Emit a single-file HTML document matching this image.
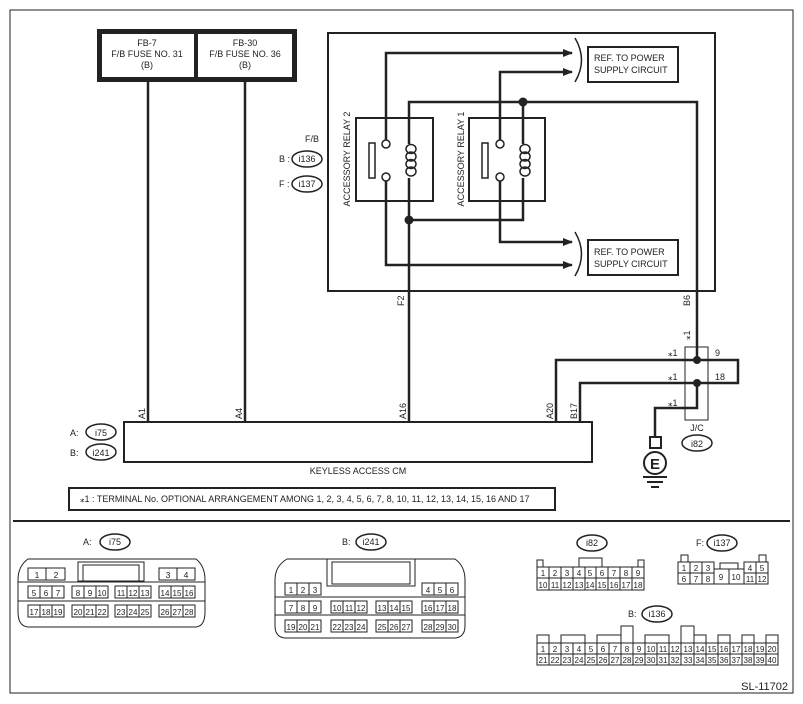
<!DOCTYPE html>
<html><head><meta charset="utf-8"><style>
html,body{margin:0;padding:0;background:#fff;}
svg{display:block;}
text{font-family:"Liberation Sans",sans-serif;fill:#222;}
</style></head><body>
<svg width="803" height="704" viewBox="0 0 803 704" xmlns="http://www.w3.org/2000/svg">
<defs>
<marker id="ar" markerWidth="10" markerHeight="8" refX="9" refY="4" orient="auto" markerUnits="userSpaceOnUse"><path d="M0,0 L10,4 L0,8 Z" fill="#222"/></marker>
</defs>
<rect x="10" y="10" width="783" height="683" fill="none" stroke="#222" stroke-width="1"/>
<line x1="13" y1="521" x2="790" y2="521" stroke="#222" stroke-width="2"/>

<!-- fuse boxes -->
<rect x="99.5" y="31.5" width="195" height="48" fill="#fff" stroke="#222" stroke-width="5"/>
<line x1="196" y1="31" x2="196" y2="80" stroke="#222" stroke-width="4"/>
<g font-size="9" text-anchor="middle">
<text x="147" y="46">FB-7</text><text x="147" y="57">F/B FUSE NO. 31</text><text x="147" y="68">(B)</text>
<text x="245" y="46">FB-30</text><text x="245" y="57">F/B FUSE NO. 36</text><text x="245" y="68">(B)</text>
</g>
<g stroke="#222" stroke-width="2.5" fill="none">
<line x1="148" y1="82" x2="148" y2="422"/>
<line x1="245" y1="82" x2="245" y2="422"/>
</g>

<!-- F/B box -->
<rect x="328" y="33" width="387" height="258" fill="none" stroke="#222" stroke-width="2"/>
<rect x="356" y="118" width="77" height="83" fill="none" stroke="#222" stroke-width="2"/>
<rect x="469" y="118" width="76" height="83" fill="none" stroke="#222" stroke-width="2"/>
<rect x="369" y="143" width="6" height="35" fill="#fff" stroke="#222" stroke-width="1.5"/>
<rect x="482" y="143" width="6" height="35" fill="#fff" stroke="#222" stroke-width="1.5"/>
<g stroke="#222" stroke-width="2.5" fill="none">
<polyline points="386,140 386,53 572,53" marker-end="url(#ar)"/>
<polyline points="500,140 500,72 572,72" marker-end="url(#ar)"/>
<polyline points="386,181 386,265 572,265" marker-end="url(#ar)"/>
<polyline points="500,181 500,242 572,242" marker-end="url(#ar)"/>
<polyline points="409,144 409,102 697,102 697,360"/>
<line x1="409" y1="178" x2="409" y2="422"/>
<line x1="523" y1="102" x2="523" y2="144"/>
<polyline points="409,220 523,220 523,178"/>
</g>
<g stroke="#222" stroke-width="1.5" fill="#fff">
<circle cx="386" cy="144" r="4"/><circle cx="386" cy="177" r="4"/>
<circle cx="500" cy="144" r="4"/><circle cx="500" cy="177" r="4"/>
</g>
<!-- coils -->
<g stroke="#222" stroke-width="1.5" fill="none">
<ellipse cx="411" cy="149" rx="5" ry="4.5"/><ellipse cx="411" cy="156.5" rx="5" ry="4.5"/><ellipse cx="411" cy="164" rx="5" ry="4.5"/><ellipse cx="411" cy="171.5" rx="5" ry="4.5"/>
<ellipse cx="525" cy="149" rx="5" ry="4.5"/><ellipse cx="525" cy="156.5" rx="5" ry="4.5"/><ellipse cx="525" cy="164" rx="5" ry="4.5"/><ellipse cx="525" cy="171.5" rx="5" ry="4.5"/>
</g>
<circle cx="409" cy="220" r="4.5" fill="#222"/>
<circle cx="523" cy="102" r="4.5" fill="#222"/>
<g stroke="#222" stroke-width="1.5" fill="none">
<path d="M575,38 Q588,60 575,82"/>
<path d="M575,232 Q588,254 575,276"/>
</g>
<rect x="588" y="47" width="90" height="35" fill="none" stroke="#222" stroke-width="2"/>
<rect x="588" y="240" width="90" height="35" fill="none" stroke="#222" stroke-width="2"/>
<g font-size="9">
<text x="594" y="61">REF. TO POWER</text><text x="594" y="73">SUPPLY CIRCUIT</text>
<text x="594" y="255">REF. TO POWER</text><text x="594" y="267">SUPPLY CIRCUIT</text>
<text transform="translate(350,159) rotate(-90)" text-anchor="middle">ACCESSORY RELAY 2</text>
<text transform="translate(464,159) rotate(-90)" text-anchor="middle">ACCESSORY RELAY 1</text>
<text x="305" y="142">F/B</text>
<text x="279" y="162">B :</text><text x="279" y="187">F :</text>
<text x="307" y="162" text-anchor="middle">i136</text><text x="307" y="187" text-anchor="middle">i137</text>
<text transform="translate(404,306) rotate(-90)">F2</text>
<text transform="translate(690,306) rotate(-90)">B6</text>
</g>
<ellipse cx="307" cy="159" rx="15" ry="8" fill="none" stroke="#222" stroke-width="1.5"/>
<ellipse cx="307" cy="184" rx="15" ry="8" fill="none" stroke="#222" stroke-width="1.5"/>

<!-- J/C -->
<rect x="685" y="347" width="23" height="73" fill="none" stroke="#222" stroke-width="1"/>
<g stroke="#222" stroke-width="2.5" fill="none">
<polyline points="556,422 556,360 738,360 738,383 580,383 580,422"/>
<polyline points="697,383 697,408 655,408 655,437"/>
</g>
<circle cx="697" cy="360" r="4" fill="#222"/>
<circle cx="697" cy="383" r="4" fill="#222"/>
<rect x="650" y="437" width="11" height="11" fill="#fff" stroke="#222" stroke-width="2"/>
<circle cx="655" cy="463" r="11" fill="#fff" stroke="#222" stroke-width="2"/>
<text x="655" y="469" font-size="15" font-weight="bold" text-anchor="middle">E</text>
<g stroke="#222" stroke-width="2">
<line x1="643" y1="477" x2="667" y2="477"/><line x1="647" y1="482" x2="663" y2="482"/><line x1="651" y1="487" x2="659" y2="487"/>
</g>
<g font-size="9">
<text x="668" y="356">⁎1</text><text x="668" y="380">⁎1</text><text x="668" y="406">⁎1</text>
<text transform="translate(690,340) rotate(-90)">⁎1</text>
<text x="715" y="356">9</text><text x="715" y="380">18</text>
<text x="697" y="431" text-anchor="middle">J/C</text>
<text x="697" y="447" text-anchor="middle">i82</text>
</g>
<ellipse cx="697" cy="443" rx="15" ry="8" fill="none" stroke="#222" stroke-width="1.5"/>

<!-- CM -->
<rect x="124" y="422" width="468" height="40" fill="none" stroke="#222" stroke-width="2"/>
<g font-size="9">
<text transform="translate(145,419) rotate(-90)">A1</text>
<text transform="translate(242,419) rotate(-90)">A4</text>
<text transform="translate(406,419) rotate(-90)">A16</text>
<text transform="translate(553,419) rotate(-90)">A20</text>
<text transform="translate(577,419) rotate(-90)">B17</text>
<text x="358" y="474" text-anchor="middle">KEYLESS ACCESS CM</text>
<text x="70" y="436">A:</text><text x="70" y="456">B:</text>
<text x="101" y="436" text-anchor="middle">i75</text><text x="101" y="456" text-anchor="middle">i241</text>
<text x="80" y="502">⁎1  : TERMINAL No. OPTIONAL ARRANGEMENT AMONG 1, 2, 3, 4, 5, 6, 7, 8, 10, 11, 12, 13, 14, 15, 16 AND 17</text>
</g>
<ellipse cx="101" cy="432" rx="15" ry="8" fill="none" stroke="#222" stroke-width="1.5"/>
<ellipse cx="101" cy="452" rx="15" ry="8" fill="none" stroke="#222" stroke-width="1.5"/>
<rect x="69" y="488" width="486" height="22" fill="none" stroke="#222" stroke-width="2"/>

<!-- bottom connectors labels -->
<g font-size="9">
<text x="83" y="545">A:</text><text x="115" y="545" text-anchor="middle">i75</text>
<text x="342" y="545">B:</text><text x="371" y="545" text-anchor="middle">i241</text>
<text x="592" y="546" text-anchor="middle">i82</text>
<text x="696" y="546">F:</text><text x="722" y="546" text-anchor="middle">i137</text>
<text x="628" y="617">B:</text><text x="657" y="617" text-anchor="middle">i136</text>
<text x="788" y="690" font-size="11" text-anchor="end">SL-11702</text>
</g>
<g fill="none" stroke="#222" stroke-width="1.5">
<ellipse cx="115" cy="542" rx="15" ry="8"/><ellipse cx="371" cy="542" rx="15" ry="8"/>
<ellipse cx="592" cy="543" rx="15" ry="8"/><ellipse cx="722" cy="543" rx="15" ry="8"/>
<ellipse cx="657" cy="614" rx="15" ry="8"/>
</g>

<!-- i75 -->
<g fill="none" stroke="#222" stroke-width="1">
<path d="M28,559 L196,559 Q205,566 205,580 L205,612 Q205,626 196,627 L28,627 Q18,626 18,612 L18,580 Q18,566 28,559 Z"/>
<line x1="18" y1="582" x2="205" y2="582"/><line x1="18" y1="601" x2="205" y2="601"/>
<rect x="78" y="562" width="66" height="19"/><rect x="83" y="565" width="56" height="16"/>
<rect x="28" y="568" width="37" height="12"/><line x1="46" y1="568" x2="46" y2="580"/>
<rect x="159" y="568" width="36" height="12"/><line x1="177" y1="568" x2="177" y2="580"/>
</g>
<g font-size="8.5" text-anchor="middle">
<text x="37" y="578">1</text><text x="56" y="578">2</text><text x="168" y="578">3</text><text x="186" y="578">4</text>
</g>
<g fill="none" stroke="#222" stroke-width="1">
<rect x="28" y="586" width="36" height="12"/><line x1="40" y1="586" x2="40" y2="598"/><line x1="52" y1="586" x2="52" y2="598"/>
<rect x="72" y="586" width="36" height="12"/><line x1="84" y1="586" x2="84" y2="598"/><line x1="96" y1="586" x2="96" y2="598"/>
<rect x="115" y="586" width="36" height="12"/><line x1="127" y1="586" x2="127" y2="598"/><line x1="139" y1="586" x2="139" y2="598"/>
<rect x="159" y="586" width="36" height="12"/><line x1="171" y1="586" x2="171" y2="598"/><line x1="183" y1="586" x2="183" y2="598"/>
<rect x="28" y="605" width="36" height="12"/><line x1="40" y1="605" x2="40" y2="617"/><line x1="52" y1="605" x2="52" y2="617"/>
<rect x="72" y="605" width="36" height="12"/><line x1="84" y1="605" x2="84" y2="617"/><line x1="96" y1="605" x2="96" y2="617"/>
<rect x="115" y="605" width="36" height="12"/><line x1="127" y1="605" x2="127" y2="617"/><line x1="139" y1="605" x2="139" y2="617"/>
<rect x="159" y="605" width="36" height="12"/><line x1="171" y1="605" x2="171" y2="617"/><line x1="183" y1="605" x2="183" y2="617"/>
</g>
<g font-size="8" text-anchor="middle">
<text x="34" y="596">5</text><text x="46" y="596">6</text><text x="58" y="596">7</text>
<text x="78" y="596">8</text><text x="90" y="596">9</text><text x="102" y="596">10</text>
<text x="121" y="596">11</text><text x="133" y="596">12</text><text x="145" y="596">13</text>
<text x="165" y="596">14</text><text x="177" y="596">15</text><text x="189" y="596">16</text>
<text x="34" y="615">17</text><text x="46" y="615">18</text><text x="58" y="615">19</text>
<text x="78" y="615">20</text><text x="90" y="615">21</text><text x="102" y="615">22</text>
<text x="121" y="615">23</text><text x="133" y="615">24</text><text x="145" y="615">25</text>
<text x="165" y="615">26</text><text x="177" y="615">27</text><text x="189" y="615">28</text>
</g>

<!-- i241 -->
<g fill="none" stroke="#222" stroke-width="1">
<path d="M287,559 L455,559 Q465,566 465,580 L465,626 Q465,637 455,638 L285,638 Q275,637 275,626 L275,580 Q275,566 287,559 Z"/>
<line x1="275" y1="597" x2="465" y2="597"/><line x1="275" y1="615" x2="465" y2="615"/>
<rect x="327" y="559" width="88" height="27"/><rect x="332" y="562" width="78" height="22"/>
</g>
<g fill="none" stroke="#222" stroke-width="1">
<rect x="285" y="583" width="36" height="12"/><line x1="297" y1="583" x2="297" y2="595"/><line x1="309" y1="583" x2="309" y2="595"/>
<rect x="422" y="583" width="36" height="12"/><line x1="434" y1="583" x2="434" y2="595"/><line x1="446" y1="583" x2="446" y2="595"/>
<rect x="285" y="601" width="36" height="12"/><line x1="297" y1="601" x2="297" y2="613"/><line x1="309" y1="601" x2="309" y2="613"/>
<rect x="331" y="601" width="36" height="12"/><line x1="343" y1="601" x2="343" y2="613"/><line x1="355" y1="601" x2="355" y2="613"/>
<rect x="376" y="601" width="36" height="12"/><line x1="388" y1="601" x2="388" y2="613"/><line x1="400" y1="601" x2="400" y2="613"/>
<rect x="422" y="601" width="36" height="12"/><line x1="434" y1="601" x2="434" y2="613"/><line x1="446" y1="601" x2="446" y2="613"/>
<rect x="285" y="620" width="36" height="12"/><line x1="297" y1="620" x2="297" y2="632"/><line x1="309" y1="620" x2="309" y2="632"/>
<rect x="331" y="620" width="36" height="12"/><line x1="343" y1="620" x2="343" y2="632"/><line x1="355" y1="620" x2="355" y2="632"/>
<rect x="376" y="620" width="36" height="12"/><line x1="388" y1="620" x2="388" y2="632"/><line x1="400" y1="620" x2="400" y2="632"/>
<rect x="422" y="620" width="36" height="12"/><line x1="434" y1="620" x2="434" y2="632"/><line x1="446" y1="620" x2="446" y2="632"/>
</g>
<g font-size="8" text-anchor="middle">
<text x="291" y="593">1</text><text x="303" y="593">2</text><text x="315" y="593">3</text>
<text x="428" y="593">4</text><text x="440" y="593">5</text><text x="452" y="593">6</text>
<text x="291" y="611">7</text><text x="303" y="611">8</text><text x="315" y="611">9</text>
<text x="337" y="611">10</text><text x="349" y="611">11</text><text x="361" y="611">12</text>
<text x="382" y="611">13</text><text x="394" y="611">14</text><text x="406" y="611">15</text>
<text x="428" y="611">16</text><text x="440" y="611">17</text><text x="452" y="611">18</text>
<text x="291" y="630">19</text><text x="303" y="630">20</text><text x="315" y="630">21</text>
<text x="337" y="630">22</text><text x="349" y="630">23</text><text x="361" y="630">24</text>
<text x="382" y="630">25</text><text x="394" y="630">26</text><text x="406" y="630">27</text>
<text x="428" y="630">28</text><text x="440" y="630">29</text><text x="452" y="630">30</text>
</g>

<!-- i82 -->
<g fill="none" stroke="#222" stroke-width="1">
<rect x="537" y="567" width="107" height="23"/><line x1="537" y1="578" x2="644" y2="578"/>
<path d="M549,567 V579 M561,567 V590 M573,567 V590 M585,567 V590 M596,567 V590 M608,567 V590 M620,567 V590 M632,567 V590 M549,578 V590"/>
<rect x="537" y="560" width="6" height="7"/><rect x="638" y="560" width="6" height="7"/>
<rect x="579" y="558" width="23" height="9"/>
</g>
<g font-size="8" text-anchor="middle">
<text x="543" y="576">1</text><text x="555" y="576">2</text><text x="567" y="576">3</text><text x="579" y="576">4</text><text x="590" y="576">5</text><text x="602" y="576">6</text><text x="614" y="576">7</text><text x="626" y="576">8</text><text x="638" y="576">9</text>
<text x="543" y="588">10</text><text x="555" y="588">11</text><text x="567" y="588">12</text><text x="579" y="588">13</text><text x="590" y="588">14</text><text x="602" y="588">15</text><text x="614" y="588">16</text><text x="626" y="588">17</text><text x="638" y="588">18</text>
</g>

<!-- i137 -->
<g fill="none" stroke="#222" stroke-width="1">
<rect x="678" y="562" width="36" height="22"/><line x1="678" y1="573" x2="714" y2="573"/>
<line x1="690" y1="562" x2="690" y2="584"/><line x1="702" y1="562" x2="702" y2="584"/>
<rect x="714" y="569" width="30" height="15"/><line x1="729" y1="569" x2="729" y2="584"/>
<rect x="720" y="563" width="18" height="6"/>
<rect x="744" y="562" width="24" height="22"/><line x1="744" y1="573" x2="768" y2="573"/><line x1="756" y1="562" x2="756" y2="584"/>
<rect x="681" y="555" width="7" height="7"/><rect x="759" y="555" width="7" height="7"/>
</g>
<g font-size="8" text-anchor="middle">
<text x="684" y="571">1</text><text x="696" y="571">2</text><text x="708" y="571">3</text>
<text x="750" y="571">4</text><text x="762" y="571">5</text>
<text x="684" y="582">6</text><text x="696" y="582">7</text><text x="708" y="582">8</text>
<text x="721" y="580">9</text><text x="736" y="580">10</text>
<text x="750" y="582">11</text><text x="762" y="582">12</text>
</g>

<!-- i136 -->
<g fill="none" stroke="#222" stroke-width="1">
<rect x="537" y="643" width="241" height="22"/><line x1="537" y1="654" x2="778" y2="654"/>
<path d="M549,643V665 M561,643V665 M573,643V665 M585,643V665 M597,643V665 M609,643V665 M621,643V665 M633,643V665 M645,643V665 M657,643V665 M669,643V665 M681,643V665 M694,643V665 M706,643V665 M718,643V665 M730,643V665 M742,643V665 M754,643V665 M766,643V665"/>
<rect x="537" y="635" width="12" height="8"/><rect x="561" y="635" width="24" height="8"/>
<rect x="597" y="635" width="24" height="8"/><rect x="621" y="626" width="12" height="17"/>
<rect x="645" y="635" width="24" height="8"/><rect x="681" y="626" width="13" height="17"/>
<rect x="694" y="635" width="12" height="8"/><rect x="718" y="635" width="12" height="8"/>
<rect x="742" y="635" width="12" height="8"/><rect x="766" y="635" width="12" height="8"/>
</g>
<g font-size="8" text-anchor="middle">
<text x="543" y="652">1</text><text x="555" y="652">2</text><text x="567" y="652">3</text><text x="579" y="652">4</text><text x="591" y="652">5</text><text x="603" y="652">6</text><text x="615" y="652">7</text><text x="627" y="652">8</text><text x="639" y="652">9</text><text x="651" y="652">10</text><text x="663" y="652">11</text><text x="675" y="652">12</text><text x="688" y="652">13</text><text x="700" y="652">14</text><text x="712" y="652">15</text><text x="724" y="652">16</text><text x="736" y="652">17</text><text x="748" y="652">18</text><text x="760" y="652">19</text><text x="772" y="652">20</text>
<text x="543" y="663">21</text><text x="555" y="663">22</text><text x="567" y="663">23</text><text x="579" y="663">24</text><text x="591" y="663">25</text><text x="603" y="663">26</text><text x="615" y="663">27</text><text x="627" y="663">28</text><text x="639" y="663">29</text><text x="651" y="663">30</text><text x="663" y="663">31</text><text x="675" y="663">32</text><text x="688" y="663">33</text><text x="700" y="663">34</text><text x="712" y="663">35</text><text x="724" y="663">36</text><text x="736" y="663">37</text><text x="748" y="663">38</text><text x="760" y="663">39</text><text x="772" y="663">40</text>
</g>
</svg>
</body></html>
